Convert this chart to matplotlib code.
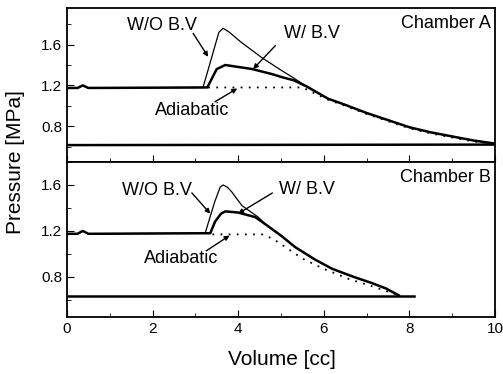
import numpy as np
import matplotlib
matplotlib.use('Agg')
import matplotlib.pyplot as plt
from matplotlib.ticker import MultipleLocator

plt.rcParams['font.family'] = ['Liberation Sans', 'DejaVu Sans']

# chamber A
va_wo = [0, 0.25, 0.37, 0.5, 3.18, 3.4, 3.55, 3.65, 3.8, 4.05, 4.56, 5.0, 5.27, 5.6, 6.1, 6.5, 7.0, 7.5, 8.0, 8.5, 9.0, 9.5, 10.0]
pa_wo = [1.175, 1.175, 1.2, 1.175, 1.18, 1.5, 1.72, 1.76, 1.72, 1.63, 1.47, 1.35, 1.28, 1.19, 1.07, 1.01, 0.93, 0.86, 0.79, 0.74, 0.70, 0.66, 0.63]
va_w = [0, 0.25, 0.37, 0.5, 3.28, 3.5, 3.7, 4.33, 4.8, 5.03, 5.3, 5.6, 6.1, 6.5, 7.0, 7.5, 8.0, 8.5, 9.0, 9.5, 10.0]
pa_w = [1.175, 1.175, 1.2, 1.175, 1.18, 1.36, 1.40, 1.36, 1.31, 1.28, 1.25, 1.19, 1.07, 1.01, 0.93, 0.86, 0.79, 0.74, 0.70, 0.66, 0.63]
va_ad = [3.3, 5.5, 6.1, 6.5, 7.0, 7.5, 8.0, 8.5, 9.0, 9.5, 10.0]
pa_ad = [1.18, 1.18, 1.06, 1.0, 0.92, 0.85, 0.78, 0.73, 0.69, 0.65, 0.63]
va_base = [0, 10.0]
pa_base = [0.615, 0.62]

# chamber B
vb_wo = [0, 0.25, 0.37, 0.5, 3.23, 3.45, 3.58, 3.65, 3.75, 3.85, 4.09, 4.47, 4.63, 5.0, 5.33, 5.8, 6.2, 6.7, 7.1, 7.45, 7.75]
pb_wo = [1.175, 1.175, 1.2, 1.175, 1.18, 1.45, 1.58, 1.60, 1.58, 1.54, 1.42, 1.32, 1.26, 1.16, 1.06, 0.95, 0.87, 0.80, 0.75, 0.70, 0.64]
vb_w = [0, 0.25, 0.37, 0.5, 3.35, 3.46, 3.6, 3.7, 4.0, 4.4, 4.63, 5.0, 5.33, 5.8, 6.2, 6.7, 7.1, 7.45, 7.75]
pb_w = [1.175, 1.175, 1.2, 1.175, 1.18, 1.28, 1.35, 1.37, 1.36, 1.32, 1.26, 1.16, 1.06, 0.95, 0.87, 0.80, 0.75, 0.70, 0.64]
vb_ad = [3.4, 4.56, 4.82, 5.1, 5.5, 6.0, 6.6, 7.2, 7.75]
pb_ad = [1.17, 1.17, 1.13, 1.06, 0.96, 0.87, 0.78, 0.71, 0.64]
vb_base = [0, 8.1]
pb_base = [0.63, 0.63]

fig = plt.figure(figsize=(5.03, 3.74), dpi=100)
ax1 = fig.add_axes([0.133, 0.567, 0.851, 0.412])
ax2 = fig.add_axes([0.133, 0.152, 0.851, 0.415])

ax1.plot(va_wo, pa_wo, color='black', lw=0.9)
ax1.plot(va_w, pa_w, color='black', lw=1.8)
ax1.plot(va_ad, pa_ad, color='black', lw=1.3, ls=(0, (1, 3.5)))
ax1.plot(va_base, pa_base, color='black', lw=1.8)

ax2.plot(vb_wo, pb_wo, color='black', lw=0.9)
ax2.plot(vb_w, pb_w, color='black', lw=1.8)
ax2.plot(vb_ad, pb_ad, color='black', lw=1.3, ls=(0, (1, 3.5)))
ax2.plot(vb_base, pb_base, color='black', lw=1.8)

ax1.set_ylim(0.45, 1.96)
ax2.set_ylim(0.45, 1.80)

for ax in (ax1, ax2):
    ax.set_xlim(0, 10)
    ax.xaxis.set_major_locator(MultipleLocator(2))
    ax.xaxis.set_minor_locator(MultipleLocator(1))
    ax.yaxis.set_major_locator(MultipleLocator(0.4))
    ax.yaxis.set_minor_locator(MultipleLocator(0.2))
    ax.tick_params(which='both', direction='in', top=False, right=False, labelsize=11)
    ax.tick_params(which='major', length=5)
    ax.tick_params(which='minor', length=3)
    for s in ax.spines.values():
        s.set_linewidth(1.3)
ax1.set_yticks([0.8, 1.2, 1.6])
ax2.set_yticks([0.8, 1.2, 1.6])
ax1.tick_params(axis='x', labelbottom=False)

arr = dict(arrowstyle='-|>', color='black', lw=1.0, mutation_scale=7, shrinkA=0, shrinkB=0)
fs = 13

ax1.text(2.23, 1.79, 'W/O B.V', fontsize=fs, ha='center', va='center')
ax1.annotate('', xy=(3.3, 1.48), xytext=(2.95, 1.71), arrowprops=arr)
ax1.text(5.72, 1.71, 'W/ B.V', fontsize=fs, ha='center', va='center')
ax1.annotate('', xy=(4.35, 1.36), xytext=(4.87, 1.59), arrowprops=arr)
ax1.text(2.93, 0.95, 'Adiabatic', fontsize=fs, ha='center', va='center')
ax1.annotate('', xy=(3.98, 1.17), xytext=(3.46, 1.04), arrowprops=arr)
ax1.text(0.99, 0.90, 'Chamber A', fontsize=fs, ha='right', va='center', transform=ax1.transAxes)

ax2.text(2.1, 1.55, 'W/O B.V', fontsize=fs, ha='center', va='center')
ax2.annotate('', xy=(3.35, 1.35), xytext=(2.92, 1.53), arrowprops=arr)
ax2.text(5.61, 1.56, 'W/ B.V', fontsize=fs, ha='center', va='center')
ax2.annotate('', xy=(4.0, 1.35), xytext=(4.8, 1.53), arrowprops=arr)
ax2.text(2.67, 0.96, 'Adiabatic', fontsize=fs, ha='center', va='center')
ax2.annotate('', xy=(3.8, 1.16), xytext=(3.27, 1.03), arrowprops=arr)
ax2.text(0.99, 0.90, 'Chamber B', fontsize=fs, ha='right', va='center', transform=ax2.transAxes)

fig.text(0.03, 0.567, 'Pressure [MPa]', rotation=90, ha='center', va='center', fontsize=15)
fig.text(0.56, 0.04, 'Volume [cc]', ha='center', va='center', fontsize=15)

fig.savefig('out.png', dpi=100)
